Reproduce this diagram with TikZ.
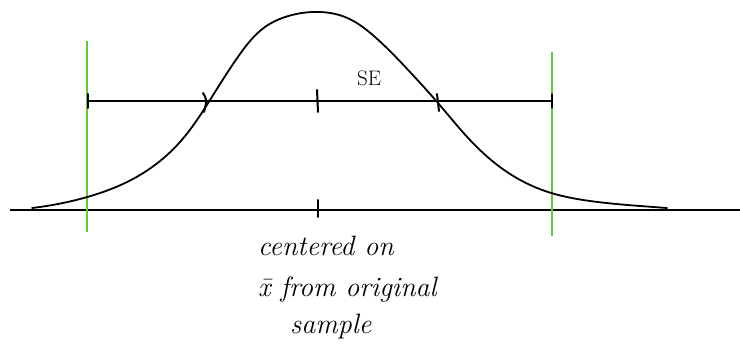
\documentclass[tikz,border=0pt]{standalone}
\usetikzlibrary{hobby}
\definecolor{linegreen}{RGB}{100,200,60}
\begin{document}
\begin{tikzpicture}[x=1pt,y=-1pt,
  ink/.style={line width=1.8pt,black,line cap=round,line join=round},
  green line/.style={line width=1.6pt,linegreen},
  tickmark/.style={line width=2pt,black,line cap=round},
  hand/.style={font=\fontsize{28}{31}\selectfont\itshape,inner sep=0pt,anchor=west}]
\useasboundingbox (0,0) rectangle (740,363);
% axis
\coordinate (axL) at (10,210);
\coordinate (axR) at (740,210);
\draw[ink,line cap=butt] (axL) -- (axR);
% green lines
\coordinate (g1t) at (87,41); \coordinate (g1b) at (87,232);
\coordinate (g2t) at (552,52); \coordinate (g2b) at (552,236);
\draw[green line] (g1t) -- (g1b);
\draw[green line] (g2t) -- (g2b);
% curve
\draw[ink] (32,208) to[curve through={(80,199) (140,175) (180,142) (210,100)
 (240,54) (265,27) (292,15) (320,12) (345,17) (375,37) (410,72) (438,103) (470,140)
 (507,172) (545,191) (590,201) (640,206)}] (667,208);
% SE bar
\coordinate (b1) at (88,101);
\coordinate (b2) at (552,101);
\draw[ink] (b1) -- (b2);
\draw[tickmark] (203,93) .. controls (207,100) .. (204,112);
\draw[tickmark] (88,94) -- (88,108);
\draw[tickmark] (317,90) -- (318,112);
\draw[tickmark] (437,94) -- (439,111);
\draw[tickmark,line width=1.2pt] (552,94) -- (552,108);
\draw[tickmark] (318,200) -- (318,217);
% labels
\node[font=\fontsize{21}{24}\selectfont] (se) at (369,78) {SE};
\node[hand] (t1) at (258,246) {centered on};
\node[hand] (t2) at (258,290) {\={x} from original};
\node[hand] (t3) at (290,327) {sample};
\end{tikzpicture}
\end{document}
